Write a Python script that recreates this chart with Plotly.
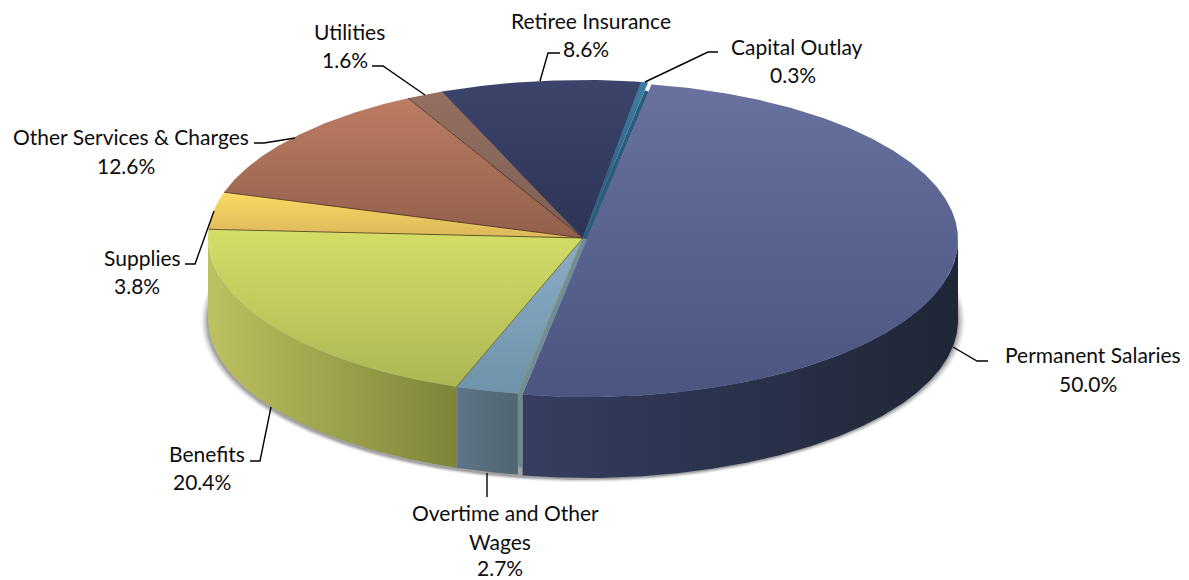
import numpy as np
import plotly.graph_objects as go

labels = ["Permanent Salaries", "Overtime and Other<br>Wages", "Benefits", "Supplies",
          "Other Services & Charges", "Utilities", "Retiree Insurance", "Capital Outlay"]
values = [50.0, 2.7, 20.4, 3.8, 12.6, 1.6, 8.6, 0.3]

top_colors = [("#69719F", "#4A5580"), ("#8DABC6", "#6E93AB"), ("#D4DE66", "#ADB654"), ("#FADB62", "#DBB75A"),
              ("#BC7C62", "#93604C"), ("#956F5F", "#7C6055"), ("#3C446B", "#2D3457"), ("#3F7FA6", "#26506F")]
edge_colors = ["#5F7593", "#8A9A50", "#5E6A20", "#4A3C1C", "#4A2E22", "#3E2C26", "#2D3457", "#2E6488"]
side_colors = [("#363D60", "#1F2636"), ("#5E7489", "#506670"), ("#BCC160", "#7E8438"), None,
               None, None, None, None]
offsets = [(4, 1.5), (0, 0), (0, 0), (0, 0), (0, 0), (0, 0), (0, 0), (0, 0)]
shrink = [(4, 0.5), (0, 0), (0, 0), (0, 0), (0, 0), (0, 0), (0, 0), (0, 0)]

CX, CY, RX, RY, DEPTH = 583, 238, 375, 158, 81
START = 10.0

# (text, x centre, y centre)
text_lines = [
    ("Permanent Salaries", 1093, 354), ("50.0%", 1088, 383),
    ("Overtime and Other", 505, 512), ("Wages", 500, 541), ("2.7%", 500, 567),
    ("Benefits", 207, 453), ("20.4%", 202, 481),
    ("Supplies", 142, 257), ("3.8%", 137, 285),
    ("Other Services & Charges", 131, 136), ("12.6%", 126, 165),
    ("Utilities", 349, 31), ("1.6%", 345, 59),
    ("Retiree Insurance", 591, 20), ("8.6%", 586, 48),
    ("Capital Outlay", 797, 46), ("0.3%", 793, 74),
]
leaders = [
    [(953, 347), (977, 361), (988, 361)],
    [(487, 473), (487, 497)],
    [(250, 461), (260, 461), (271, 407)],
    [(185, 264), (195, 264), (214, 211)],
    [(254, 143), (264, 143), (295, 138)],
    [(372, 66), (383, 66), (425, 95)],
    [(560, 53), (548, 53), (540, 81)],
    [(718, 52), (708, 52), (645, 82)],
]


def arc(t0, t1, dx=0.0, dy=0.0, dr=(0, 0), n=None):
    n = n or max(4, int(abs(t1 - t0) * 2))
    t = np.radians(np.linspace(t0, t1, n))
    return CX + dx + (RX - dr[0]) * np.sin(t), CY + dy - (RY - dr[1]) * np.cos(t)


def poly(px, py, color):
    fig.add_trace(go.Scatter(x=px, y=py, mode="lines", line=dict(width=0), fill="toself",
                             fillcolor=color, hoverinfo="skip", showlegend=False))


fig = go.Figure()

# soft shadow below the pie
for k, op in zip([7, 5.5, 4, 2.5, 1.2], [0.06, 0.09, 0.12, 0.16, 0.2]):
    t = np.radians(np.linspace(0, 360, 361))
    poly(CX + (RX + k) * np.sin(t), CY + DEPTH + 2 - (RY + k * 0.45) * np.cos(t),
         f"rgba(70,70,70,{op})")

edges = START + np.concatenate([[0], np.cumsum(values)]) * 3.6

# side walls: only the front half of the rim
for i in range(len(values)):
    a, b = edges[i], edges[i + 1]
    lo, hi = max(a, 90), min(b, 270)
    if lo >= hi or side_colors[i] is None:
        continue
    dx, dy = offsets[i]
    xs, ys = arc(lo, hi, dx, dy, shrink[i])
    px = np.concatenate([xs, xs[::-1]])
    py = np.concatenate([ys, ys[::-1] + DEPTH])
    c0, c1 = side_colors[i]
    fig.add_trace(go.Scatter(
        x=px, y=py, mode="lines", line=dict(width=0), fill="toself",
        fillgradient=dict(type="horizontal", colorscale=[[0, c0], [1, c1]]),
        hoverinfo="skip", showlegend=False))

# cut face where the largest slice is pulled away from its neighbours
pdx, pdy = offsets[0]
ex0, ey0 = arc(edges[1], edges[1], n=1)
ex1, ey1 = ex0 + pdx, ey0 + pdy
poly([ex0[0], ex1[0], ex1[0], ex0[0]], [ey0[0], ey1[0], ey1[0] + DEPTH - 8, ey0[0] + DEPTH - 8], "#6E8791")
poly([CX, CX + pdx, ex1[0], ex0[0]], [CY, CY + pdy, ey1[0], ey0[0]], "#6E8C9B")
fx0, fy0 = arc(edges[0], edges[0], n=1)
fx0, fy0 = CX + 0.95 * (fx0 - CX), CY + 0.95 * (fy0 - CY)
poly([CX, CX + pdx, fx0[0] + pdx, fx0[0]], [CY, CY + pdy, fy0[0] + pdy, fy0[0]], "#2C5C7C")

# top faces
for i in range(len(values)):
    dx, dy = offsets[i]
    xs, ys = arc(edges[i], edges[i + 1], dx, dy, shrink[i])
    px = np.concatenate([[CX + dx], xs, [CX + dx]])
    py = np.concatenate([[CY + dy], ys, [CY + dy]])
    c0, c1 = top_colors[i]
    fig.add_trace(go.Scatter(
        x=px, y=py, mode="lines", line=dict(width=0), fill="toself",
        fillgradient=dict(type="vertical", colorscale=[[0, c1], [1, c0]]),
        name=labels[i], hovertemplate=f"{labels[i]}: {values[i]:.1f}%<extra></extra>", showlegend=False))

# thin radial seams between the slices (none along the outer rim)
for i in range(1, len(values)):
    xs, ys = arc(edges[i], edges[i], n=1)
    fig.add_trace(go.Scatter(
        x=[CX, xs[0]], y=[CY, ys[0]], mode="lines",
        line=dict(width=0.8, color=edge_colors[i]), hoverinfo="skip", showlegend=False))

# leader lines
for pts in leaders:
    fig.add_trace(go.Scatter(
        x=[p[0] for p in pts], y=[p[1] for p in pts], mode="lines",
        line=dict(color="#000000", width=1.4), hoverinfo="skip", showlegend=False))

annotations = [dict(x=x, y=y, text=s, showarrow=False, xanchor="center", yanchor="middle",
                    font=dict(family="Lato", size=21, color="#0D0D0D")) for s, x, y in text_lines]

fig.update_layout(
    width=1189, height=580, margin=dict(l=0, r=0, t=0, b=0),
    paper_bgcolor="white", plot_bgcolor="white",
    xaxis=dict(range=[0, 1189], visible=False, fixedrange=True),
    yaxis=dict(range=[580, 0], visible=False, fixedrange=True),
    annotations=annotations, showlegend=False)
fig.write_html("out.html", config=dict(displayModeBar=False),
               post_script="document.body.style.margin='0';document.documentElement.style.overflow='hidden';")
